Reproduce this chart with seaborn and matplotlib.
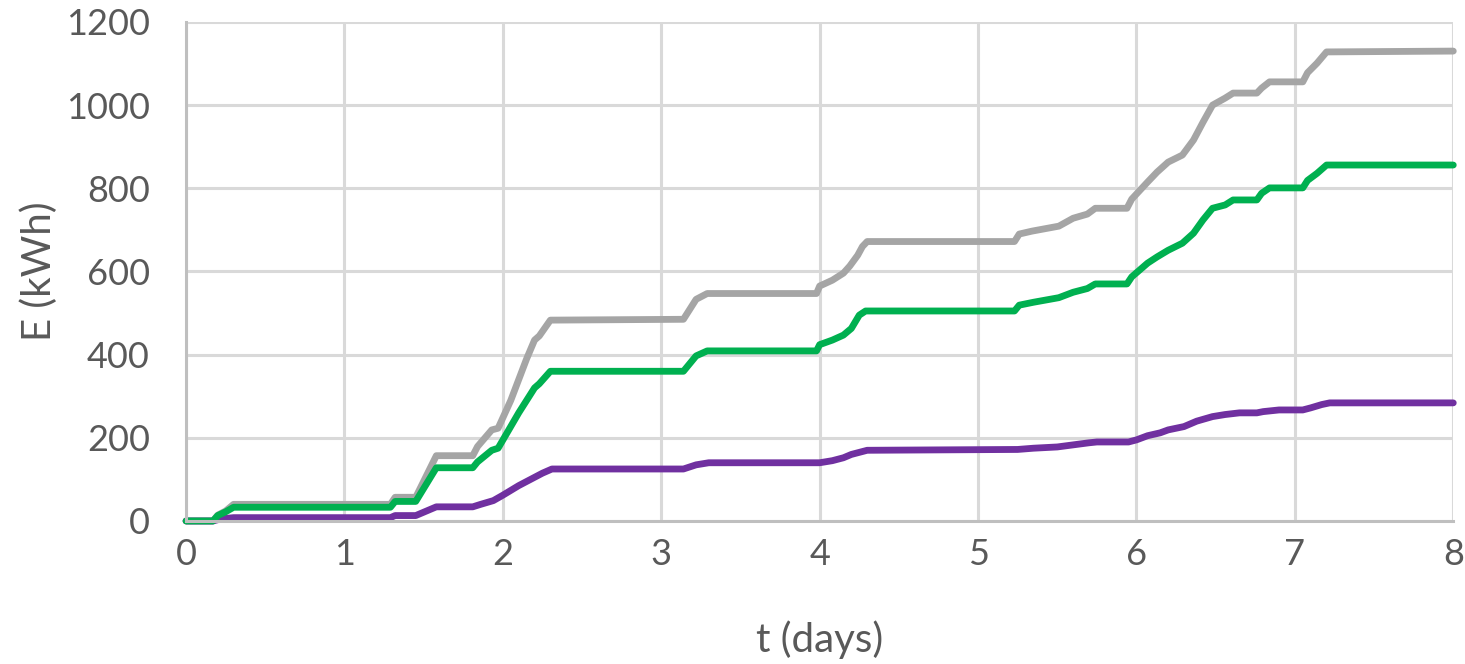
import matplotlib
matplotlib.use("Agg")
import matplotlib.pyplot as plt
import pandas as pd
import seaborn as sns

# Cumulative energy curves, time in days, energy in kWh
t_total = [0, 0.17, 0.2, 0.25, 0.3, 1.29, 1.32, 1.45, 1.58, 1.81, 1.84, 1.93, 1.97, 2.05, 2.1, 2.15,
           2.2, 2.23, 2.3, 3.14, 3.22, 3.29, 3.98, 4.0, 4.08, 4.15, 4.19, 4.24, 4.27, 4.3, 5.23, 5.26,
           5.34, 5.51, 5.6, 5.69, 5.74, 5.94, 5.97, 6.07, 6.13, 6.2, 6.29, 6.36, 6.42, 6.48, 6.56, 6.61,
           6.76, 6.79, 6.84, 7.05, 7.08, 7.14, 7.2, 8.0]
e_total = [0, 0, 14, 24, 40, 40, 57, 57, 157, 157, 179, 219, 223, 290, 340, 390,
           435, 445, 483, 485, 533, 547, 547, 565, 579, 596, 613, 639, 660, 672, 672, 690,
           697, 709, 728, 738, 752, 752, 774, 815, 839, 863, 880, 916, 959, 1000, 1017, 1029,
           1029, 1041, 1056, 1056, 1078, 1101, 1128, 1130]

t_green = [0, 0.17, 0.2, 0.25, 0.3, 1.29, 1.32, 1.45, 1.58, 1.81, 1.84, 1.93, 1.97, 2.1,
           2.2, 2.23, 2.3, 3.14, 3.22, 3.29, 3.98, 4.0, 4.08, 4.15, 4.2, 4.25, 4.29, 5.23, 5.26,
           5.35, 5.51, 5.6, 5.69, 5.74, 5.94, 5.97, 6.07, 6.13, 6.2, 6.29, 6.36, 6.42, 6.48, 6.56, 6.61,
           6.76, 6.79, 6.84, 7.05, 7.08, 7.14, 7.2, 8.0]
e_green = [0, 0, 13, 22, 33, 33, 47, 47, 128, 128, 142, 170, 175, 260,
           320, 330, 360, 360, 397, 409, 409, 424, 435, 447, 463, 495, 505, 505, 519,
           526, 537, 550, 559, 570, 570, 587, 620, 635, 651, 668, 692, 724, 752, 760, 772,
           772, 788, 801, 801, 819, 836, 856, 856]

t_purple = [0, 0.17, 0.22, 0.3, 1.29, 1.32, 1.45, 1.58, 1.81, 1.86, 1.94, 2.0, 2.1, 2.25, 2.31,
            3.14, 3.22, 3.3, 4.0, 4.08, 4.15, 4.2, 4.3, 5.25, 5.35, 5.5, 5.6, 5.7, 5.75, 5.95, 6.0,
            6.07, 6.15, 6.2, 6.3, 6.38, 6.48, 6.56, 6.65, 6.76, 6.8, 6.9, 7.05, 7.1, 7.17, 7.22, 8.0]
e_purple = [0, 0, 5, 8, 8, 13, 13, 34, 34, 40, 49, 62, 85, 115, 125,
            125, 135, 140, 140, 145, 152, 160, 170, 172, 175, 178, 183, 188, 190, 190, 195,
            205, 212, 219, 227, 240, 251, 256, 260, 260, 263, 267, 267, 272, 280, 284, 284]

# Drawing order: grey first, purple next, green on top
series_names = ["total", "purple", "green"]
series_colors = {"total": "#A5A5A5", "green": "#00B050", "purple": "#7030A0"}

frames = []
for name, t, e in zip(series_names, [t_total, t_purple, t_green], [e_total, e_purple, e_green]):
    frames.append(pd.DataFrame({"t": t, "E": e, "series": name}))
df = pd.concat(frames, ignore_index=True)

sns.set_theme(style="white")
plt.rcParams["font.family"] = ["Lato", "DejaVu Sans"]

fig = plt.figure(figsize=(14.65, 6.64), dpi=100)
ax = fig.add_axes([0.127, 0.2154, 0.865, 0.7515])

ax.grid(True, color="#D9D9D9", linewidth=2.2, zorder=0)
ax.set_axisbelow(True)

sns.lineplot(data=df, x="t", y="E", hue="series", palette=series_colors,
             hue_order=series_names, linewidth=4.9, legend=False,
             sort=False, ax=ax, solid_capstyle="round", solid_joinstyle="round")
for line in ax.lines:
    line.set_clip_on(False)

ax.set_xlim(0, 8)
ax.set_ylim(0, 1200)
ax.set_xticks(range(0, 9))
ax.set_yticks(range(0, 1201, 200))

for side in ["top", "right"]:
    ax.spines[side].set_visible(False)
for side in ["left", "bottom"]:
    ax.spines[side].set_color("#BFBFBF")
    ax.spines[side].set_linewidth(2.2)

ax.tick_params(axis="both", length=0, labelsize=26, colors="#595959")
ax.tick_params(axis="x", pad=12)
ax.tick_params(axis="y", pad=26)
ax.set_xlabel("t (days)", fontsize=29, color="#595959", labelpad=36)
ax.set_ylabel("E (kWh)", fontsize=29, color="#595959", labelpad=6)

fig.savefig("out.png", dpi=100)
